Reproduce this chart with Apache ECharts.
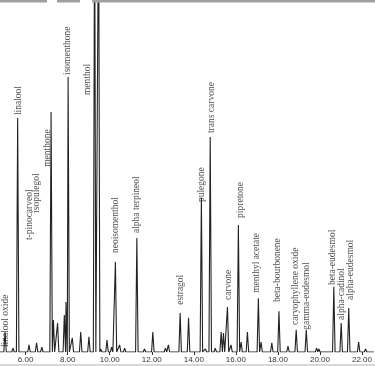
<!DOCTYPE html>
<html>
<head>
<meta charset="utf-8">
<script src="https://cdn.jsdelivr.net/npm/echarts@6/dist/echarts.min.js"></script>
<style>html,body{margin:0;padding:0;background:#fff}#c{width:375px;height:366px}</style>
</head>
<body>
<div id="c"></div>
<script>
// Retention time (min) of each peak apex and its relative abundance (100 = top of frame)
const peakTimes = [5.02,5.40,5.62,6.16,6.52,6.77,7.21,7.32,7.52,7.84,7.92,8.02,8.22,8.62,9.01,9.28,9.47,9.57,9.87,10.09,10.27,10.47,10.71,11.29,11.65,12.05,12.65,12.79,13.35,13.75,14.36,14.55,14.78,15.02,15.30,15.41,15.60,15.77,16.12,16.25,16.55,17.07,17.20,17.71,18.05,18.48,18.87,19.35,19.84,19.95,20.66,21.01,21.37,21.84,22.17];
const peakHeights = [5.7,1.1,66.5,2.0,2.6,1.4,68.2,9.1,8.2,10.5,14.2,78.1,4.0,5.7,4.3,130,130,0.9,3.4,1.4,25.6,2.0,1.1,32.4,0.9,5.7,1.1,2.0,11.1,9.7,43.8,0.9,61.1,1.1,5.7,5.4,12.8,2.0,36.1,2.8,5.7,15.3,2.8,2.6,11.6,1.7,6.3,6.3,1.1,0.9,18.5,8.2,12.5,2.8,0.9];

// Compound labels: name, retention time, abundance level at the start of the text
const labelNames = ['linalool oxide','linalool','t-pinocarveol','isopulegol','menthone','isomenthone','menthol','neoisomenthol','alpha terpineol','estragol','pulegone','trans carvone','carvone','pipretone','menthyl acetate','beta-bourbonene','caryophyllene oxide','gamma-eudesmol','beta-eudesmol','alpha-cadinol','alpha-eudesmol'];
const labelTimes = [5.02,5.64,6.16,6.54,7.06,8.00,8.95,10.28,11.27,13.36,14.36,14.83,15.63,16.20,16.96,18.00,18.86,19.38,20.61,21.04,21.47];
const labelLevels = [1.4,67.3,31.8,39.5,52.6,78.7,73.0,28.1,33.8,13.4,42.6,62.2,14.8,38.1,16.8,14.2,7.7,6.3,19.0,9.1,14.8];

// Axis tick labels (min)
const tickValues = [6,8,10,12,14,16,18,20,22];

const X_MIN = 4.78, X_MAX = 22.56, HALF_WIDTH = 0.06;

const trace = [[X_MIN, 0]];
peakTimes.forEach((t, i) => {
  trace.push([t - HALF_WIDTH, 0], [t, peakHeights[i]], [t + HALF_WIDTH, 0]);
});
trace.push([X_MAX, 0]);

const labelData = labelNames.map((n, i) => ({ value: [labelTimes[i], labelLevels[i]], name: n }));

const chart = echarts.init(document.getElementById('c'), null, { renderer: 'canvas' });
chart.setOption({
  animation: false,
  backgroundColor: '#fff',
  grid: { left: 0, right: 0, top: 0, bottom: 14, containLabel: false },
  xAxis: {
    type: 'value', min: X_MIN, max: X_MAX,
    splitLine: { show: false },
    axisLine: { show: false },
    axisTick: { show: true, length: 3, lineStyle: { color: '#333' }, customValues: tickValues },
    axisLabel: {
      customValues: tickValues, margin: 4,
      formatter: v => v.toFixed(2),
      fontFamily: 'Liberation Sans', fontSize: 8, color: '#333'
    }
  },
  yAxis: { type: 'value', min: 0, max: 100, show: false, splitLine: { show: false } },
  series: [
    {
      type: 'line', data: trace, symbol: 'none', clip: true,
      lineStyle: { color: '#222', width: 1.1 }
    },
    {
      type: 'scatter', data: labelData, symbolSize: 0, clip: false,
      label: {
        show: true, formatter: p => p.name, rotate: 90,
        position: 'top', distance: 0, align: 'left', verticalAlign: 'middle',
        fontFamily: 'Liberation Serif', fontSize: 9.5, color: '#222'
      }
    }
  ],
  graphic: [
    { type: 'rect', shape: { x: 0, y: 0, width: 47, height: 2.5 }, style: { fill: '#a0a0a0' }, z: 100 },
    { type: 'rect', shape: { x: 57, y: 0, width: 23, height: 2.5 }, style: { fill: '#a0a0a0' }, z: 100 },
    { type: 'rect', shape: { x: 92, y: 0, width: 283, height: 2.5 }, style: { fill: '#a0a0a0' }, z: 100 },
    { type: 'rect', shape: { x: 0, y: 364, width: 375, height: 2 }, style: { fill: '#d8d8d8' }, z: 100 }
  ]
});
</script>
</body>
</html>
